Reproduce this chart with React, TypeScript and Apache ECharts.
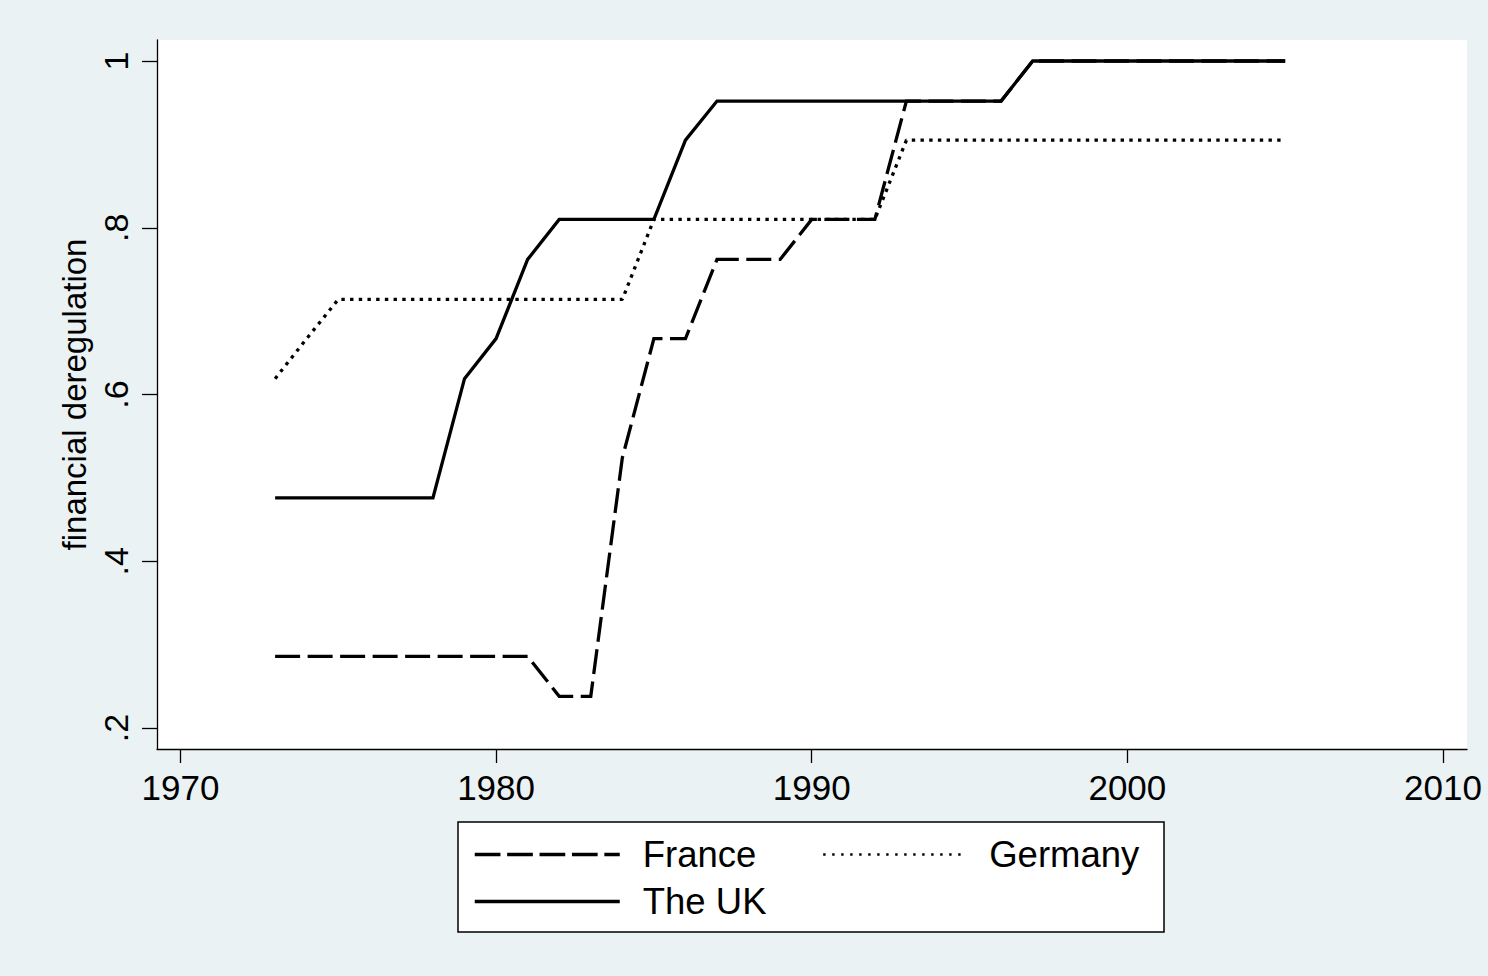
import React, { useEffect, useRef } from 'react';
import * as echarts from 'echarts';

const years = [
  1973, 1974, 1975, 1976, 1977, 1978, 1979, 1980, 1981, 1982, 1983,
  1984, 1985, 1986, 1987, 1988, 1989, 1990, 1991, 1992, 1993, 1994,
  1995, 1996, 1997, 1998, 1999, 2000, 2001, 2002, 2003, 2004, 2005,
];
const france = [
  0.286, 0.286, 0.286, 0.286, 0.286, 0.286, 0.286, 0.286, 0.286, 0.238, 0.238,
  0.524, 0.667, 0.667, 0.762, 0.762, 0.762, 0.81, 0.81, 0.81, 0.952, 0.952,
  0.952, 0.952, 1, 1, 1, 1, 1, 1, 1, 1, 1,
];
const germany = [
  0.619, 0.667, 0.714, 0.714, 0.714, 0.714, 0.714, 0.714, 0.714, 0.714, 0.714,
  0.714, 0.81, 0.81, 0.81, 0.81, 0.81, 0.81, 0.81, 0.81, 0.905, 0.905,
  0.905, 0.905, 0.905, 0.905, 0.905, 0.905, 0.905, 0.905, 0.905, 0.905, 0.905,
];
const uk = [
  0.476, 0.476, 0.476, 0.476, 0.476, 0.476, 0.619, 0.667, 0.762, 0.81, 0.81,
  0.81, 0.81, 0.905, 0.952, 0.952, 0.952, 0.952, 0.952, 0.952, 0.952, 0.952,
  0.952, 0.952, 1, 1, 1, 1, 1, 1, 1, 1, 1,
];
const seriesNames = ['France', 'Germany', 'The UK'];
const xTicks = [1970, 1980, 1990, 2000, 2010];
const yTicks = [0.2, 0.4, 0.6, 0.8, 1];
const yTickLabels = ['.2', '.4', '.6', '.8', '1'];
const yTitle = 'financial deregulation';

const FONT = '"Liberation Sans", Arial, Helvetica, sans-serif';
const BG = '#EAF2F3';

export default function App() {
  const ref = useRef<HTMLDivElement>(null);
  useEffect(() => {
    if (!ref.current) return;
    const chart = echarts.init(ref.current, null, { renderer: 'svg' });
    const toPairs = (vals: number[]) => years.map((y, i) => [y, vals[i]]);
    const legendText = { fontSize: 36.5, color: '#000', fontFamily: FONT, padding: [5, 0, 0, 18] };
    const hiddenSymbol = { opacity: 0, color: 'rgba(0,0,0,0)', borderWidth: 0 };
    chart.setOption({
      animation: false,
      backgroundColor: BG,
      textStyle: { fontFamily: FONT },
      grid: {
        left: 157,
        right: 21,
        top: 40,
        bottom: 227,
        show: true,
        backgroundColor: '#fff',
        borderWidth: 0,
      },
      xAxis: {
        type: 'value',
        min: 1969.258,
        max: 2010.76,
        splitLine: { show: false },
        axisLine: { show: true, onZero: false, lineStyle: { color: '#000', width: 1.3 } },
        axisTick: { show: true, length: 14, customValues: xTicks, lineStyle: { color: '#000', width: 1.3 } },
        axisLabel: {
          customValues: xTicks,
          margin: 21,
          fontSize: 35,
          color: '#000',
          fontFamily: FONT,
          formatter: (v: number) => String(Math.round(v)),
        },
      },
      yAxis: {
        type: 'value',
        min: 0.1748,
        max: 1.0252,
        name: yTitle,
        nameLocation: 'middle',
        nameGap: 62,
        nameTextStyle: { fontSize: 33, color: '#000', fontFamily: FONT },
        splitLine: { show: false },
        axisLine: { show: true, onZero: false, lineStyle: { color: '#000', width: 1.3 } },
        axisTick: { show: true, length: 15, customValues: yTicks, lineStyle: { color: '#000', width: 1.3 } },
        axisLabel: {
          customValues: yTicks,
          rotate: 90,
          margin: 24,
          fontSize: 34,
          color: '#000',
          fontFamily: FONT,
          formatter: (v: number) => {
            const i = yTicks.findIndex((t) => Math.abs(t - v) < 1e-6);
            return i >= 0 ? yTickLabels[i] : '';
          },
        },
      },
      legend: [
        {
          data: [{ name: seriesNames[0], itemStyle: hiddenSymbol, lineStyle: { width: 3.5, type: [25.7, 6.7], color: '#000' } }],
          left: 473,
          top: 836,
          padding: 0,
          itemWidth: 145,
          itemHeight: 20,
          selectedMode: false,
          textStyle: legendText,
        },
        {
          data: [{ name: seriesNames[1], itemStyle: hiddenSymbol, lineStyle: { width: 2.4, type: [2.4, 6.6], color: '#000' } }],
          left: 822,
          top: 836,
          padding: 0,
          itemWidth: 143,
          itemHeight: 20,
          selectedMode: false,
          textStyle: legendText,
        },
        {
          data: [{ name: seriesNames[2], itemStyle: hiddenSymbol, lineStyle: { width: 3.5, type: 'solid', color: '#000' } }],
          left: 473,
          top: 883,
          padding: 0,
          itemWidth: 145,
          itemHeight: 20,
          selectedMode: false,
          textStyle: legendText,
        },
      ],
      graphic: [
        {
          type: 'rect',
          shape: { x: 458, y: 822, width: 706, height: 110 },
          style: { fill: '#fff', stroke: '#000', lineWidth: 1.5 },
          z: -1,
          silent: true,
        },
      ],
      series: [
        {
          name: seriesNames[0],
          type: 'line',
          data: toPairs(france),
          symbol: 'none',
          lineStyle: { color: '#000', width: 3.3, type: [25, 7.5], cap: 'butt', join: 'miter' },
          itemStyle: { color: '#000' },
          z: 3,
        },
        {
          name: seriesNames[1],
          type: 'line',
          data: toPairs(germany),
          symbol: 'none',
          lineStyle: { color: '#000', width: 3.3, type: [3.4, 5.3], cap: 'butt' },
          itemStyle: { color: '#000' },
          z: 2,
        },
        {
          name: seriesNames[2],
          type: 'line',
          data: toPairs(uk),
          symbol: 'none',
          lineStyle: { color: '#000', width: 3.3, type: 'solid', join: 'miter' },
          itemStyle: { color: '#000' },
          z: 4,
        },
      ],
    });
    return () => chart.dispose();
  }, []);
  return (
    <div
      ref={ref}
      style={{ position: 'fixed', left: 0, top: 0, width: 1488, height: 976 }}
    />
  );
}
